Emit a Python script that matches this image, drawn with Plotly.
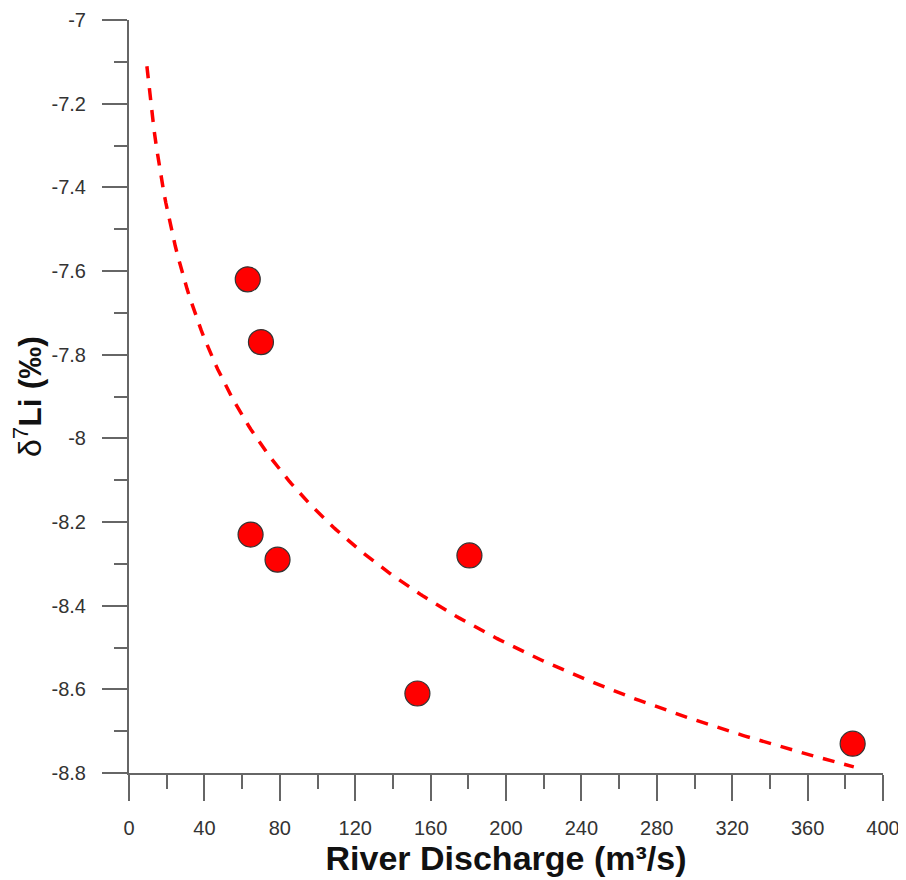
import numpy as np
import plotly.graph_objects as go

# Data
discharge = [63.0, 70.0, 64.5, 78.8, 153.0, 180.6, 383.9]
delta7li = [-7.62, -7.77, -8.23, -8.29, -8.61, -8.28, -8.73]

# Logarithmic trend y = a + b*ln(x), coefficients
fit_a = -6.092
fit_b = -0.4525
fit_x_start = 9.5
fit_x_end = 384.5

x_tickvals = [0, 40, 80, 120, 160, 200, 240, 280, 320, 360, 400]
x_ticktext = ["0", "40", "80", "120", "160", "200", "240", "280", "320", "360", "400"]
y_tickvals = [-7, -7.2, -7.4, -7.6, -7.8, -8, -8.2, -8.4, -8.6, -8.8]
y_ticktext = ["-7", "-7.2", "-7.4", "-7.6", "-7.8", "-8", "-8.2", "-8.4", "-8.6", "-8.8"]

fx = np.linspace(fit_x_start, fit_x_end, 300)
fy = fit_a + fit_b * np.log(fx)

fig = go.Figure()
fig.add_trace(go.Scatter(
    x=fx, y=fy, mode="lines",
    line=dict(color="#ff0000", width=3.5, dash="12px,10px"),
    hoverinfo="skip", showlegend=False,
))
fig.add_trace(go.Scatter(
    x=discharge, y=delta7li, mode="markers",
    marker=dict(size=25, color="#ff0000", line=dict(color="#333333", width=1.2)),
    showlegend=False,
))

axis_font = dict(family="Liberation Sans, Arial, sans-serif", size=20, color="#333333")
title_font = dict(family="Liberation Sans, Arial, sans-serif", size=34, color="#111111")
ytitle_font = dict(family="Liberation Sans, Arial, sans-serif", size=32, color="#111111")
fig.update_layout(
    width=898, height=872,
    margin=dict(l=121, r=23, t=12, b=107),
    paper_bgcolor="white", plot_bgcolor="white",
    showlegend=False,
)
fig.update_xaxes(
    range=[0, 400], autorange=False,
    tickvals=x_tickvals, ticktext=x_ticktext,
    ticks="outside", ticklen=26, tickwidth=2, tickcolor="#666666",
    minor=dict(ticks="outside", ticklen=14, tickwidth=2, tickcolor="#666666", dtick=20, tick0=0, showgrid=False),
    showline=True, linecolor="#666666", linewidth=2,
    showgrid=False, zeroline=False,
    tickfont=axis_font, ticklabelstandoff=10,
    title=dict(text="<b>River Discharge (m³/s)</b>", font=title_font, standoff=0),
    automargin=False,
)
fig.update_yaxes(
    range=[-8.8, -7], autorange=False,
    tickvals=y_tickvals, ticktext=y_ticktext,
    ticks="outside", ticklen=25, tickwidth=2, tickcolor="#666666",
    minor=dict(ticks="outside", ticklen=13, tickwidth=2, tickcolor="#666666", dtick=0.1, tick0=-7, showgrid=False),
    showline=True, linecolor="#666666", linewidth=2,
    showgrid=False, zeroline=False,
    tickfont=axis_font, ticklabelstandoff=12,
    title=dict(text="δ<sup>7</sup><b>Li (‰)</b>", font=ytitle_font, standoff=15),
    automargin=False,
)

fig.write_html("out.html")
